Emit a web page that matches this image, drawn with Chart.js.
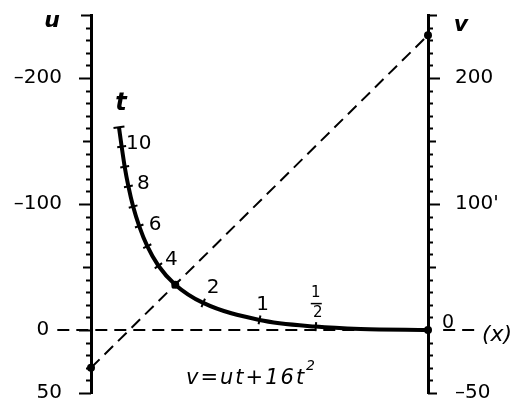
<!DOCTYPE html>
<html>
<head>
<meta charset="utf-8">
<script src="https://cdn.jsdelivr.net/npm/chart.js@4"></script>
<style>
  html, body { margin: 0; padding: 0; background: #fff; }
  #wrap { width: 527px; height: 409px; }
</style>
</head>
<body>
<div id="wrap"><canvas id="nomo"></canvas></div>
<script>
// t scale of the nomogram (curve), positions
// x = fraction of the way from the u axis to the v axis, y = height in v units
var tValues = [11, 10, 9, 8, 7, 6, 5, 4, 3, 2, 1, 0.5, 0.25, 0];
var tPosX = [0.083, 0.091, 0.1, 0.111, 0.125, 0.143, 0.167, 0.2, 0.25, 0.333, 0.5, 0.667, 0.8, 1];
var tPosY = [161, 145.5, 129.5, 114, 98, 82.5, 66.5, 51, 36, 21.5, 8, 2.7, 0.8, 0];
var tTicked = [11, 10, 9, 8, 7, 6, 5, 4, 3, 2, 1, 0.5];
var tLabelled = [10, 8, 6, 4, 2, 1];

// u axis (left, negative upward) and v axis (right)
var uTicks = [-200, -100, 0, 50];
var uTickText = ['\u2013200', '\u2013100', '0  ', '50'];
var vTicks = [200, 100, 0, -50];
var vTickText = ['200', "100'", '', '\u201350'];

// the key line drawn on the chart: u = 30, t = 3, v = 234
var keyU = 30, keyT = 3, keyV = 234;

var keyIdx = tValues.indexOf(keyT);
var curve = tValues.map(function (t, i) { return { x: tPosX[i], y: tPosY[i] }; });
curve.sort(function (a, b) { return a.x - b.x; });

// where the t numbers sit, relative to their tick (px)
var labelOffset = { 10: [17, -3], 8: [15, -3], 6: [16, -1], 4: [13, -6], 2: [10, -15], 1: [3, -15] };

function makeTicks(vals) {
    return function (scale) { scale.ticks = vals.map(function (v) { return { value: v }; }); };
}

function fitAxis(width) {
    return function (s) {
        s.width = width;
        s.paddingTop = 0;
        s.paddingBottom = 0;
    };
}

var nomoPlugin = {
    id: 'nomo',
    afterDraw: function (chart) {
        var ctx = chart.ctx, xs = chart.scales.x, ys = chart.scales.y;
        var px = function (v) { return xs.getPixelForValue(v); };
        var py = function (v) { return ys.getPixelForValue(v); };
        ctx.save();
        ctx.strokeStyle = '#000';
        ctx.fillStyle = '#000';
        ctx.lineCap = 'butt';

        // scale ticks on both axes, every 10 units
        var xl = px(0), xr = px(1);
        for (var val = -50; val <= 250; val += 10) {
            var len = 5;
            if (val % 100 === 0 || val === -50) len = 12;
            else if (val % 50 === 0) len = 8;
            if (val === 250) len = 10;
            var y = Math.round(py(val)) + 0.5;
            ctx.lineWidth = 2;
            ctx.beginPath();
            ctx.moveTo(xl, y); ctx.lineTo(xl - len, y);
            var rl = (val === 0) ? 0 : (val === -50 ? 9 : len);
            if (val === 250) rl = 9;
            ctx.moveTo(xr, y); ctx.lineTo(xr + rl, y);
            ctx.stroke();
        }

        // ticks across the t curve
        ctx.lineWidth = 2;
        tTicked.forEach(function (t) {
            var i = tValues.indexOf(t);
            var a = i > 0 ? i - 1 : i, b = i + 1;
            var dx = px(tPosX[b]) - px(tPosX[a]), dy = py(tPosY[b]) - py(tPosY[a]);
            var d = Math.sqrt(dx * dx + dy * dy);
            var nx = -dy / d, ny = dx / d;
            var h = (t === 11) ? 5.5 : 4.5;
            var cx = px(tPosX[i]), cy = py(tPosY[i]);
            ctx.beginPath();
            ctx.moveTo(cx - nx * h, cy - ny * h);
            ctx.lineTo(cx + nx * h, cy + ny * h);
            ctx.stroke();
        });

        // t numbers
        ctx.textAlign = 'center';
        ctx.textBaseline = 'middle';
        ctx.font = '20px "DejaVu Sans"';
        tLabelled.forEach(function (t) {
            var i = tValues.indexOf(t);
            var o = labelOffset[t];
            ctx.fillText(String(t), px(tPosX[i]) + o[0], py(tPosY[i]) + o[1]);
        });
        // the 1/2 written as a fraction
        var hi = tValues.indexOf(0.5);
        var fx = px(tPosX[hi]) + 1, fy = py(tPosY[hi]) - 23;
        ctx.font = '15px "DejaVu Sans"';
        ctx.fillText('1', fx - 1, fy - 10);
        ctx.fillText('2', fx + 1, fy + 10);
        ctx.lineWidth = 1.5;
        ctx.beginPath(); ctx.moveTo(fx - 6, fy); ctx.lineTo(fx + 5, fy); ctx.stroke();

        // the 0 of the v axis sits just above the zero line
        ctx.font = '19px "DejaVu Sans"';
        ctx.fillText('0', xr + 20, py(0) - 7);

        // axis names
        ctx.font = 'italic bold 22px "DejaVu Sans"';
        ctx.fillText('u', 52, 21);
        ctx.fillText('v', 461, 25);
        ctx.font = 'italic bold 24px "DejaVu Sans"';
        ctx.fillText('t', 121, 104);

        // (x) at the end of the zero line
        ctx.font = 'italic 22px "DejaVu Sans"';
        ctx.textAlign = 'left';
        ctx.fillText('(x)', px(1.16), py(0) + 5);

        // the equation
        ctx.font = 'italic 21px "DejaVu Sans"';
        ctx.textBaseline = 'alphabetic';
        ctx.letterSpacing = '2px';
        var eq = 'v=ut+16t';
        ctx.fillText(eq, 186, 384);
        var w = ctx.measureText(eq).width;
        ctx.font = 'italic 14px "DejaVu Sans"';
        ctx.letterSpacing = '0px';
        ctx.fillText('2', 186 + w, 370);
        ctx.restore();
    }
};

var dashStyle = { showLine: true, borderColor: '#000', borderWidth: 2, borderDash: [12, 7], pointRadius: 0, clip: false };

var ctx = document.getElementById('nomo').getContext('2d');
var myChart = new Chart(ctx, {
    type: 'scatter',
    data: {
        datasets: [{
            // points where the key line meets the scales
            data: [{ x: 0, y: -keyU }, { x: tPosX[keyIdx], y: tPosY[keyIdx] }, { x: 1, y: 0 }, { x: 1, y: keyV }],
            showLine: false,
            pointRadius: 4,
            pointBackgroundColor: '#000',
            pointBorderWidth: 0,
            clip: false
        }, {
            data: curve,
            showLine: true,
            borderColor: '#000',
            borderWidth: 4,
            cubicInterpolationMode: 'monotone',
            pointRadius: 0,
            clip: false
        },
        Object.assign({ data: [{ x: 0, y: -keyU }, { x: 1, y: keyV }] }, dashStyle),
        Object.assign({ data: [{ x: -0.1, y: 0 }, { x: 1, y: 0 }] }, dashStyle),
        Object.assign({ data: [{ x: 1.045, y: 0 }, { x: 1.148, y: 0 }] }, dashStyle)
        ]
    },
    options: {
        responsive: true,
        maintainAspectRatio: false,
        devicePixelRatio: 1,
        animation: false,
        layout: { padding: { top: 15, bottom: 16, left: 0, right: 0 } },
        plugins: { legend: { display: false }, tooltip: { enabled: false } },
        scales: {
            x: { type: 'linear', min: 0, max: 1, display: false },
            y: {
                position: 'left',
                min: -50, max: 250,
                afterFit: fitAxis(91),
                afterBuildTicks: makeTicks(uTicks.map(function (u) { return -u; })),
                grid: { display: false },
                border: { display: true, width: 3, color: '#000' },
                ticks: {
                    autoSkip: false,
                    padding: 21,
                    color: '#000',
                    font: { family: 'DejaVu Sans', size: 20 },
                    callback: function (value) { return uTickText[uTicks.indexOf(-value)]; }
                }
            },
            y2: {
                position: 'right',
                min: -50, max: 250,
                afterFit: fitAxis(99),
                afterBuildTicks: makeTicks(vTicks),
                grid: { display: false },
                border: { display: true, width: 3, color: '#000' },
                ticks: {
                    autoSkip: false,
                    padding: 19,
                    color: '#000',
                    font: { family: 'DejaVu Sans', size: 20 },
                    callback: function (value) { return vTickText[vTicks.indexOf(value)]; }
                }
            }
        }
    },
    plugins: [nomoPlugin]
});
</script>
</body>
</html>
